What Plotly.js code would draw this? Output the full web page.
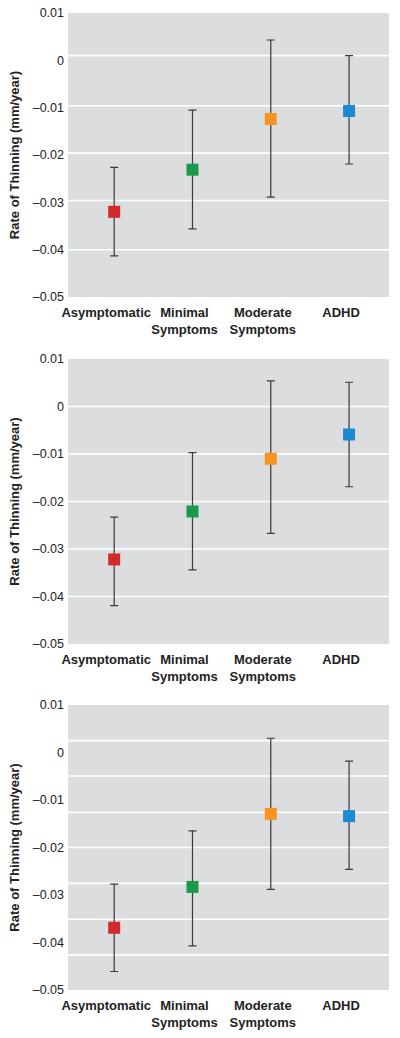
<!DOCTYPE html>
<html>
<head>
<meta charset="utf-8">
<script src="https://cdn.plot.ly/plotly-3.0.1.min.js"></script>
<style>
  html, body { margin: 0; padding: 0; background: #ffffff; }
  #chart { width: 400px; height: 1038px; }
</style>
</head>
<body>
<div id="chart"></div>
<script>
// ---- Data ----
const categories = ["Asymptomatic", "Minimal<br>Symptoms", "Moderate<br>Symptoms", "ADHD"];
const groupColors = ["#d12a2b", "#1b9a4b", "#f7941d", "#1a8bd3"];

// Panel 1
const mean1  = [-0.0320, -0.0231, -0.0124, -0.0107];
const upper1 = [-0.0226, -0.0105,  0.0043,  0.0010];
const lower1 = [-0.0413, -0.0356, -0.0289, -0.0219];
// Panel 2
const mean2  = [-0.0322, -0.0221, -0.0110, -0.0059];
const upper2 = [-0.0233, -0.0097,  0.0054,  0.0051];
const lower2 = [-0.0419, -0.0344, -0.0267, -0.0169];
// Panel 3
const mean3  = [-0.0369, -0.0283, -0.0129, -0.0134];
const upper3 = [-0.0277, -0.0165,  0.0030, -0.0018];
const lower3 = [-0.0461, -0.0407, -0.0288, -0.0246];

// Axis ticks
const yTickVals = [-0.05, -0.04, -0.03, -0.02, -0.01, 0, 0.01];
const yTickText = ["\u20130.05", "\u20130.04", "\u20130.03", "\u20130.02", "\u20130.01", "0", "0.01"];
const yTitle = "Rate of Thinning (mm/year)";

// Grid line levels as drawn in the original figure (not aligned to ticks)
const grid1 = [0.0010, -0.0096, -0.0196, -0.0296, -0.0400];
const grid2 = [0, -0.01, -0.02, -0.03, -0.04];
const grid3 = [0.0025, -0.00495, -0.0126, -0.0200, -0.02755, -0.0351, -0.0426];

const panels = [
  {mean: mean1, up: upper1, lo: lower1, grid: grid1, xa: "x",  ya: "y"},
  {mean: mean2, up: upper2, lo: lower2, grid: grid2, xa: "x2", ya: "y2"},
  {mean: mean3, up: upper3, lo: lower3, grid: grid3, xa: "x3", ya: "y3"}
];

const traces = [];
const shapes = [];
panels.forEach(p => {
  traces.push({
    type: "scatter",
    mode: "markers",
    x: categories,
    y: p.mean,
    xaxis: p.xa,
    yaxis: p.ya,
    marker: {symbol: "square", size: 12, color: groupColors, line: {width: 0}},
    error_y: {
      type: "data",
      symmetric: false,
      array: p.up.map((u, i) => u - p.mean[i]),
      arrayminus: p.mean.map((m, i) => m - p.lo[i]),
      color: "#3a3a3a",
      thickness: 1.2,
      width: 4
    },
    showlegend: false,
    hoverinfo: "x+y"
  });
  p.grid.forEach(g => {
    shapes.push({
      type: "line", layer: "below",
      xref: p.xa + " domain", x0: 0, x1: 1,
      yref: p.ya, y0: g, y1: g,
      line: {color: "#ffffff", width: 1.6}
    });
  });
});

const font = "Liberation Sans, Arial, sans-serif";
function yax(domain) {
  return {
    domain: domain,
    range: [-0.05, 0.01],
    tickvals: yTickVals,
    ticktext: yTickText,
    showgrid: false,
    zeroline: false,
    showline: false,
    ticks: "",
    ticklabelstandoff: 3,
    tickfont: {family: font, size: 12.5, color: "#222"},
    title: {text: yTitle, font: {family: font, size: 13, color: "#222", weight: "bold"}, standoff: 10}
  };
}
function xax(anchor) {
  return {
    anchor: anchor,
    type: "category",
    range: [-0.59, 3.51],
    showgrid: false,
    zeroline: false,
    showline: false,
    ticks: "",
    tickangle: 0,
    ticklabelshift: -8,
    ticklabelstandoff: 6,
    tickfont: {family: font, size: 13, color: "#222", weight: "bold"}
  };
}

const layout = {
  width: 400,
  height: 1038,
  margin: {l: 68, r: 11, t: 13, b: 48},
  paper_bgcolor: "#ffffff",
  plot_bgcolor: "#dcdddf",
  showlegend: false,
  xaxis: xax("y"),
  xaxis2: xax("y2"),
  xaxis3: xax("y3"),
  yaxis: Object.assign(yax([0.7093, 1.0]), {anchor: "x"}),
  yaxis2: Object.assign(yax([0.3541, 0.6459]), {anchor: "x2"}),
  yaxis3: Object.assign(yax([0, 0.2917]), {anchor: "x3"}),
  shapes: shapes
};

Plotly.newPlot("chart", traces, layout, {displayModeBar: false, staticPlot: true});
</script>
</body>
</html>
